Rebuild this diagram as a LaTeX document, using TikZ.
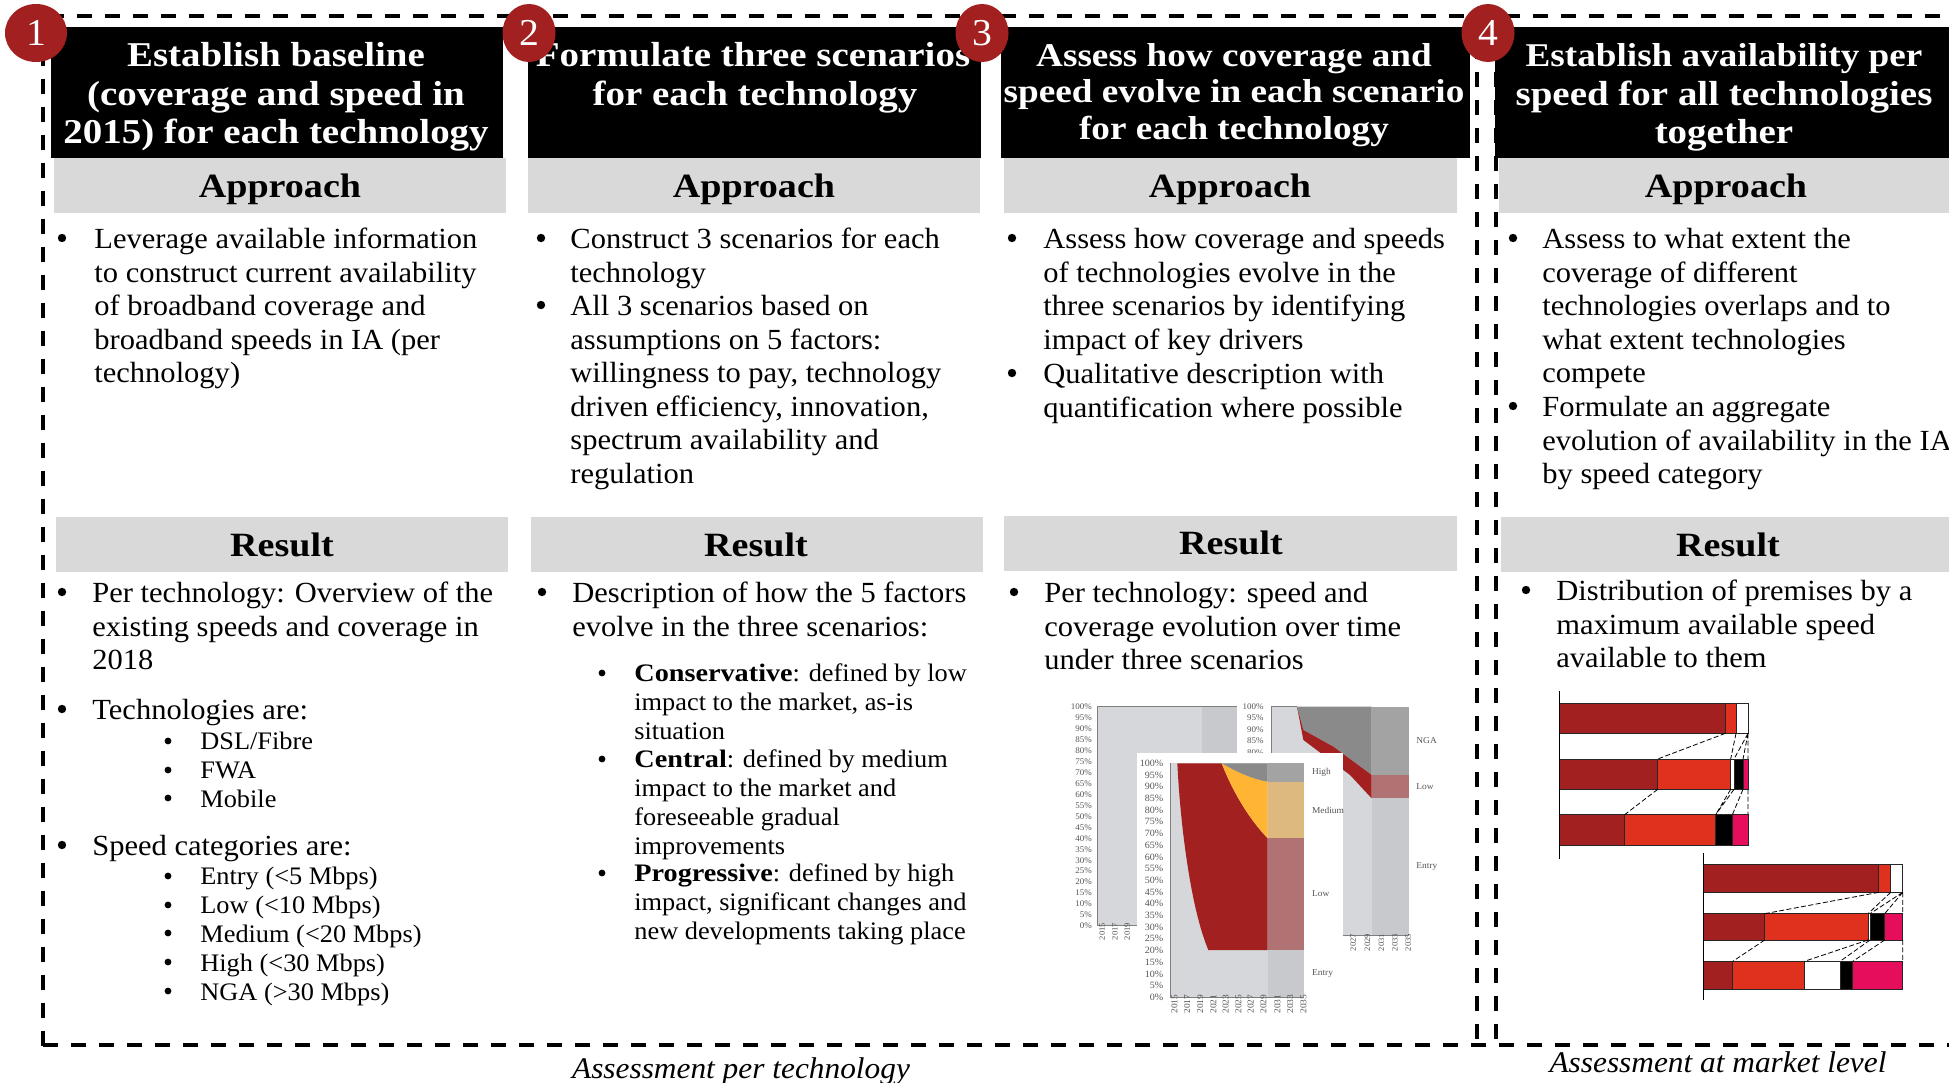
\documentclass[tikz,border=0pt]{standalone}
\usepackage{fontspec}
\usetikzlibrary{shapes.geometric}
\setmainfont{Liberation Serif}[FakeStretch=1.045]
\newfontfamily\hdrfam{Liberation Serif}[FakeStretch=1.12]
\definecolor{pwcdark}{HTML}{A32020}
\definecolor{pwcred}{HTML}{E0301E}
\definecolor{pwcpink}{HTML}{E60E5C}
\definecolor{hdrgrey}{HTML}{D9D9D9}
\definecolor{areagrey}{HTML}{D6D7DA}
\definecolor{bandgrey}{HTML}{C8C9CC}
\definecolor{topgrey}{HTML}{8A8A8A}
\definecolor{bandtop}{HTML}{A3A3A3}
\definecolor{amber}{HTML}{FFB433}
\definecolor{bandamber}{HTML}{DDB97F}
\definecolor{bandred}{HTML}{B07272}
\definecolor{axisgrey}{HTML}{7F7F7F}
\definecolor{ticktext}{HTML}{555555}
\newcommand\bodyfs{\fontsize{14.6}{16.8}\selectfont}
\newcommand\subfs{\fontsize{12.6}{14.45}\selectfont}
\newcommand\hdrfs{\hdrfam\fontsize{17.4}{19}\selectfont\bfseries}
\newcommand\hdrsmallfs{\hdrfam\fontsize{16.6}{19}\selectfont\bfseries}
\newcommand\term[1]{{\hdrfam\bfseries #1}}
\newcommand\para[4]{\node[bodytext,anchor=base west] (#1) at (#2,#3+1.4) {\begin{tabular}[t]{@{}l@{}}#4\end{tabular}};}
\newcommand\subpara[4]{\node[subtext,anchor=base west] (#1) at (#2,#3+1.4) {\begin{tabular}[t]{@{}l@{}}#4\end{tabular}};}
\newcommand\bul[2]{\fill (#1,#2) circle[radius=4.2];}
\newcommand\sbul[2]{\fill (#1,#2) circle[radius=3.4];}
\newcommand\hdrtext[4]{\node[text=white,inner sep=0pt,anchor=base,font=\hdrfs] (#1) at (#2,#3+0.8) {#4};}
\newcommand\hdrtextsmall[4]{\node[text=white,inner sep=0pt,anchor=base,font=\hdrsmallfs] (#1) at (#2,#3+0.8) {#4};}
\tikzset{
  bodytext/.style={inner sep=0pt,font=\bodyfs},
  subtext/.style={inner sep=0pt,font=\subfs},
  blackbar/.style={fill=black,draw=none},
  greybar/.style={fill=hdrgrey,draw=none},
  greylabel/.style={inner sep=0pt,anchor=base,font=\hdrfam\fontsize{17}{20}\selectfont\bfseries},
  numdot/.style={ellipse,fill=pwcdark,text=white,inner sep=0pt,font=\fontsize{19}{20}\selectfont},
  frame/.style={line width=2pt,dash pattern=on 7.5pt off 6.5pt},
  caption/.style={inner sep=0pt,anchor=base,font=\fontsize{15}{16}\selectfont\itshape},
  ytick/.style={inner sep=0pt,anchor=east,text=ticktext,font=\fontsize{4.3}{5}\selectfont},
  xtick/.style={inner sep=0pt,anchor=north,rotate=90,text=ticktext,font=\fontsize{4.1}{5}\selectfont},
  serieslab/.style={inner sep=0pt,anchor=west,text=ticktext,font=\fontsize{4.5}{5}\selectfont},
  seg/.style={draw=black!85,line width=.45pt},
  link/.style={dash pattern=on 2.5pt off 1.2pt,line width=.4pt},
}
\begin{document}
\begin{tikzpicture}[x=.5pt,y=-.5pt]
\fill[white] (0,0) rectangle (1949,1082);
\clip (0,0) rectangle (1949,1082);
% frames
\draw[frame] (43,1046) -- (43,16) -- (1949,16);
\draw[frame] (43,1045) -- (1949,1045);
\draw[frame] (1477,16) -- (1477,1045);
\draw[frame] (1496,16) -- (1496,1045);
% column bars
\fill[blackbar] (51,27) rectangle (503,158);
\fill[blackbar] (528,27) rectangle (981,158);
\fill[blackbar] (1001,27) rectangle (1470,158);
\fill[blackbar] (1495,27) rectangle (1949,158);
\fill[greybar] (54,158) rectangle (506,213);
\fill[greybar] (528,158) rectangle (980,213);
\fill[greybar] (1004,158) rectangle (1457,213);
\fill[greybar] (1499,158) rectangle (1949,213);
\fill[greybar] (56,517) rectangle (508,572);
\fill[greybar] (531,517) rectangle (983,572);
\fill[greybar] (1004,516) rectangle (1457,571);
\fill[greybar] (1501,517) rectangle (1949,572);
% header text
\hdrtext{h1a}{276}{66}{Establish baseline}
\hdrtext{h1b}{276}{105}{(coverage and speed in}
\hdrtext{h1c}{276}{143}{2015) for each technology}
\hdrtext{h2a}{753}{66}{Formulate three scenarios}
\hdrtext{h2b}{755}{105}{for each technology}
\hdrtextsmall{h3a}{1234}{66}{Assess how coverage and}
\hdrtextsmall{h3b}{1234}{102}{speed evolve in each scenario}
\hdrtextsmall{h3c}{1234}{139}{for each technology}
\hdrtextsmall{h4a}{1724}{66}{Establish availability per}
\hdrtext{h4b}{1724}{105}{speed for all technologies}
\hdrtext{h4c}{1724}{143}{together}
% grey labels
\node[greylabel] (ap1) at (280,197) {Approach};
\node[greylabel] (ap2) at (754,197) {Approach};
\node[greylabel] (ap3) at (1230,197) {Approach};
\node[greylabel] (ap4) at (1726,197) {Approach};
\node[greylabel] (re1) at (282,556) {Result};
\node[greylabel] (re2) at (756,556) {Result};
\node[greylabel] (re3) at (1231,554) {Result};
\node[greylabel] (re4) at (1728,556) {Result};
% column 1
\bul{62}{238}
\para{t1a}{94}{247}{Leverage available information\\to construct current availability\\of broadband coverage and\\broadband speeds in IA (per\\technology)}
\bul{62}{592}
\para{t1b}{92}{601}{Per technology: Overview of the\\existing speeds and coverage in\\2018}
\bul{62}{709}
\para{t1c}{92}{718}{Technologies are:}
\sbul{168}{741}\sbul{168}{770}\sbul{168}{798}
\subpara{t1d}{200}{748}{DSL/Fibre\\FWA\\Mobile}
\bul{62}{845}
\para{t1e}{92}{854}{Speed categories are:}
\sbul{168}{876}\sbul{168}{905}\sbul{168}{933}\sbul{168}{962}\sbul{168}{991}
\subpara{t1f}{200}{883}{Entry (<5 Mbps)\\Low (<10 Mbps)\\Medium (<20 Mbps)\\High (<30 Mbps)\\NGA (>30 Mbps)}
% column 2
\bul{541}{238}
\para{t2a}{570}{247}{Construct 3 scenarios for each\\technology}
\bul{541}{305}
\para{t2b}{570}{314}{All 3 scenarios based on\\assumptions on 5 factors:\\willingness to pay, technology\\driven efficiency, innovation,\\spectrum availability and\\regulation}
\bul{542}{592}
\para{t2c}{572}{601}{Description of how the 5 factors\\evolve in the three scenarios:}
\sbul{602}{673}\sbul{602}{759}\sbul{602}{873}
\subpara{t2d}{634}{680}{\term{Conservative}: defined by low\\impact to the market, as-is\\situation}
\subpara{t2e}{634}{766}{\term{Central}: defined by medium\\impact to the market and\\foreseeable gradual\\improvements}
\subpara{t2f}{634}{880}{\term{Progressive}: defined by high\\impact, significant changes and\\new developments taking place}
% column 3
\bul{1012}{238}
\para{t3a}{1043}{247}{Assess how coverage and speeds\\of technologies evolve in the\\three scenarios by identifying\\impact of key drivers}
\bul{1012}{373}
\para{t3b}{1043}{382}{Qualitative description with\\quantification where possible}
\bul{1014}{592}
\para{t3c}{1044}{601}{Per technology: speed and\\coverage evolution over time\\under three scenarios}
% column 4
\bul{1513}{238}
\para{t4a}{1542}{247}{Assess to what extent the\\coverage of different\\technologies overlaps and to\\what extent technologies\\compete}
\bul{1513}{406}
\para{t4b}{1542}{415}{Formulate an aggregate\\evolution of availability in the IA\\by speed category}
\bul{1526}{590}
\para{t4c}{1556}{599}{Distribution of premises by a\\maximum available speed\\available to them}
% captions
\node[caption] (c1) at (741,1078) {Assessment per technology};
\node[caption] (c2) at (1718,1072) {Assessment at market level};
% stacked area charts
\begin{scope}[shift={(1040,680)},x=.166667pt,y=-.166667pt]
 % back left
 \fill[areagrey] (172,78) rectangle (485,735);
 \fill[bandgrey] (485,78) rectangle (590,735);
 \draw[axisgrey,line width=.5pt] (590,78) -- (172,78) -- (172,735) -- (590,735);
 \foreach \l [count=\i from 0] in {100,95,90,85,80,75,70,65,60,55,50,45,40,35,30,25,20,15,10,5,0}
   \node[ytick] (la\i) at (157,{80+32.9*\i}) {\l\%};
 \foreach \l/\px in {2015/177,2017/215,2019/252}
   \node[xtick] (xa\l) at (\px,755) {\l};
 % back right
 \fill[areagrey] (693,80) rectangle (995,765);
 \fill[bandgrey] (995,80) rectangle (1108,765);
 \fill[topgrey] (770,80) -- (790,150) -- (880,200) -- (995,285) -- (995,80) -- cycle;
 \fill[pwcdark] (772,85) -- (790,180) -- (850,225) -- (930,285) -- (995,355) -- (995,285) -- (880,200) -- (790,150) -- cycle;
 \fill[bandtop] (995,80) rectangle (1108,285);
 \fill[bandred] (995,285) rectangle (1108,355);
 \draw[axisgrey,line width=.5pt] (770,80) -- (693,80) -- (693,765) -- (1108,765);
 \foreach \l [count=\i from 0] in {100,95,90,85,80}
   \node[ytick] (lb\i) at (672,{80+34.5*\i}) {\l\%};
 \foreach \l/\px in {2027/930,2029/973,2031/1015,2033/1055,2035/1095}
   \node[xtick] (xb\l) at (\px,788) {\l};
 \node[serieslab] (sb1) at (1128,182) {NGA};
 \node[serieslab] (sb2) at (1128,320) {Low};
 \node[serieslab] (sb3) at (1128,560) {Entry};
 % front panel
 \fill[white] (291,219) rectangle (909,1040);
 \fill[areagrey] (390,250) rectangle (683,952);
 \fill[bandgrey] (683,250) rectangle (792,952);
 \fill[pwcdark] (412,250) .. controls (420,420) and (450,680) .. (505,810) -- (683,810) -- (683,475) .. controls (630,420) and (580,340) .. (545,250) -- cycle;
 \fill[amber] (545,250) .. controls (580,340) and (630,420) .. (683,475) -- (683,305) .. controls (630,295) and (590,275) .. (545,250) -- cycle;
 \fill[topgrey] (545,250) .. controls (590,275) and (630,295) .. (683,305) -- (683,250) -- cycle;
 \fill[bandtop] (683,250) rectangle (792,305);
 \fill[bandamber] (683,305) rectangle (792,475);
 \fill[bandred] (683,475) rectangle (792,810);
 \draw[axisgrey,line width=.5pt] (390,250) -- (390,952) -- (792,952);
 \foreach \l [count=\i from 0] in {100,95,90,85,80,75,70,65,60,55,50,45,40,35,30,25,20,15,10,5,0}
   \node[ytick,font=\fontsize{4.8}{5}\selectfont] (lc\i) at (371,{250+35.1*\i}) {\l\%};
 \foreach \l/\px in {2015/393,2017/431,2019/470,2021/510,2023/547,2025/585,2027/622,2029/660,2031/702,2033/740,2035/780}
   \node[xtick,font=\fontsize{4.5}{5}\selectfont] (xc\l) at (\px,972) {\l};
 \node[serieslab] (sc1) at (815,278) {High};
 \node[serieslab] (sc2) at (815,390) {Medium};
 \node[serieslab] (sc3) at (815,642) {Low};
 \node[serieslab] (sc4) at (815,880) {Entry};
\end{scope}
% stacked bar charts
\begin{scope}[shift={(1520,680)},x=.166667pt,y=-.166667pt]
 \draw[seg,fill=pwcdark] (118,70) rectangle (616,160);
 \draw[seg,fill=pwcred] (616,70) rectangle (648,160);
 \draw[seg,fill=white] (648,70) rectangle (684,160);
 \draw[seg,fill=pwcdark] (118,237) rectangle (413,328);
 \draw[seg,fill=pwcred] (413,237) rectangle (632,328);
 \draw[seg,fill=white] (632,237) rectangle (642,328);
 \draw[seg,fill=black] (642,237) rectangle (669,328);
 \draw[seg,fill=pwcpink] (669,237) rectangle (684,328);
 \draw[seg,fill=pwcdark] (118,404) rectangle (314,495);
 \draw[seg,fill=pwcred] (314,404) rectangle (587,495);
 \draw[seg,fill=black] (587,404) rectangle (637,495);
 \draw[seg,fill=pwcpink] (637,404) rectangle (684,495);
 \draw[link] (616,160) -- (413,237) (648,160) -- (632,237) (684,160) -- (642,237) (684,160) -- (669,237) (684,160) -- (684,237);
 \draw[link] (413,328) -- (314,404) (632,328) -- (587,404) (642,328) -- (587,404) (669,328) -- (637,404) (684,328) -- (684,404);
 \draw[line width=.6pt] (118,33) -- (118,537);
 \draw[seg,fill=pwcdark] (550,553) rectangle (1076,637);
 \draw[seg,fill=pwcred] (1076,553) rectangle (1112,637);
 \draw[seg,fill=white] (1112,553) rectangle (1148,637);
 \draw[seg,fill=pwcdark] (550,701) rectangle (734,780);
 \draw[seg,fill=pwcred] (734,701) rectangle (1044,780);
 \draw[seg,fill=white] (1044,701) rectangle (1050,780);
 \draw[seg,fill=black] (1050,701) rectangle (1094,780);
 \draw[seg,fill=pwcpink] (1094,701) rectangle (1148,780);
 \draw[seg,fill=pwcdark] (550,844) rectangle (638,928);
 \draw[seg,fill=pwcred] (638,844) rectangle (853,928);
 \draw[seg,fill=white] (853,844) rectangle (960,928);
 \draw[seg,fill=black] (960,844) rectangle (998,928);
 \draw[seg,fill=pwcpink] (998,844) rectangle (1148,928);
 \draw[link] (1076,637) -- (734,701) (1112,637) -- (1044,701) (1148,637) -- (1050,701) (1148,637) -- (1094,701) (1148,637) -- (1148,701);
 \draw[link] (734,780) -- (638,844) (1044,780) -- (853,844) (1050,780) -- (960,844) (1094,780) -- (998,844) (1148,780) -- (1148,844);
 \draw[line width=.6pt] (550,520) -- (550,960);
\end{scope}
% number badges
\node[numdot,minimum width=31pt,minimum height=29pt] (n1) at (36,33) {1};
\node[numdot,minimum width=26.5pt,minimum height=29pt] (n2) at (529,33) {2};
\node[numdot,minimum width=26.5pt,minimum height=29pt] (n3) at (982,33) {3};
\node[numdot,minimum width=26.5pt,minimum height=29pt] (n4) at (1488,33) {4};
\end{tikzpicture}
\end{document}
